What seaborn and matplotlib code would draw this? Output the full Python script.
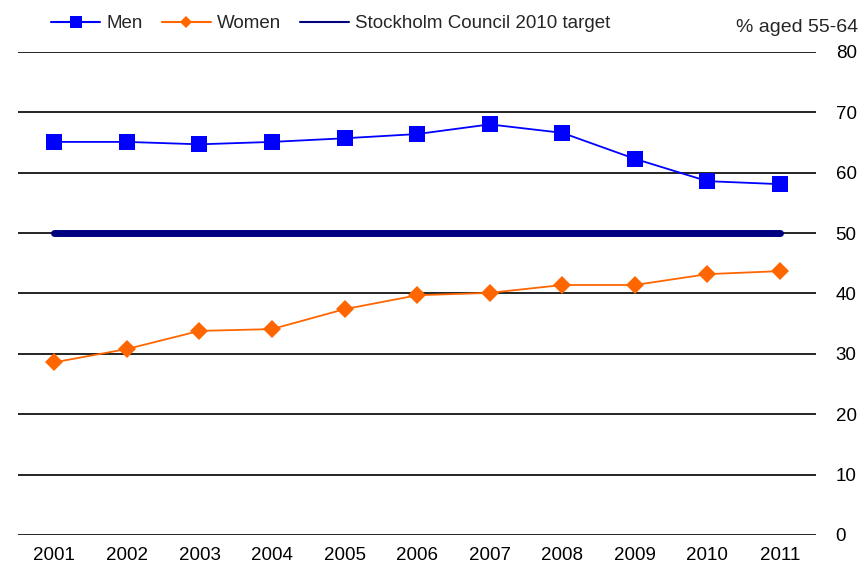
import pandas as pd
import numpy as np
import matplotlib.pyplot as plt
import seaborn as sns

years = ['2001', '2002', '2003', '2004', '2005', '2006', '2007', '2008', '2009', '2010', '2011']
men = [65.1, 65.1, 64.7, 65.1, 65.7, 66.4, 68.0, 66.6, 62.3, 58.6, 58.1]
women = [28.6, 30.8, 33.8, 34.1, 37.4, 39.7, 40.1, 41.4, 41.4, 43.2, 43.7]
target = [50] * len(years)

sns.set_theme(style='white')
plt.rcParams['font.family'] = ['Liberation Sans', 'DejaVu Sans']

df = pd.DataFrame({'year': years, 'Men': men, 'Women': women,
                   'Stockholm Council 2010 target': target})
df['x'] = np.arange(len(years))

fig = plt.figure(figsize=(8.61, 5.77), dpi=100)
ax = fig.add_axes([0.021, 0.0728, 0.927, 0.8372])

ax.set_ylim(0, 80)
ax.set_xlim(-0.5, len(years) - 0.5)
for v in range(0, 90, 10):
    ax.axhline(v, color='black', lw=1.2, zorder=1)

sns.lineplot(data=df, x='x', y='Stockholm Council 2010 target', ax=ax,
             color='#000080', lw=5, solid_capstyle='round', zorder=2,
             label='Stockholm Council 2010 target')
sns.lineplot(data=df, x='x', y='Men', ax=ax, color='#0000FF', lw=1.3,
             marker='s', markersize=12, markeredgewidth=0, zorder=3, label='Men')
sns.lineplot(data=df, x='x', y='Women', ax=ax, color='#FF6600', lw=1.3,
             marker='D', markersize=9, markeredgewidth=0, zorder=3, label='Women')

ax.set_xticks(df['x'])
ax.set_xticklabels(years)
ax.set_yticks(range(0, 90, 10))
ax.yaxis.tick_right()
ax.tick_params(axis='both', length=0, labelsize=13.5, colors='black')
ax.tick_params(axis='y', pad=14)
ax.tick_params(axis='x', pad=9)
ax.set_xlabel('')
ax.set_ylabel('')
for s in ax.spines.values():
    s.set_visible(False)

handles, labels = ax.get_legend_handles_labels()
order = [labels.index('Men'), labels.index('Women'), labels.index('Stockholm Council 2010 target')]
ax.legend_.remove()
leg_handles = [handles[i] for i in order]
fig.legend(leg_handles, [labels[i] for i in order], loc='upper left',
           bbox_to_anchor=(0.04, 1.003), ncol=3, frameon=False, fontsize=13.5,
           handlelength=2.6, columnspacing=1.0, handletextpad=0.35, markerscale=0.7)
for h in fig.legends[0].legend_handles:
    h.set_linewidth(1.5)

fig.text(0.997, 0.952, '% aged 55-64', ha='right', va='center', fontsize=14)

fig.savefig('out.png', dpi=100)
